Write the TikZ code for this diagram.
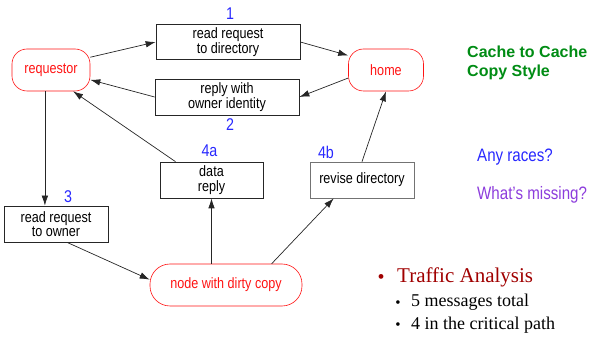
\documentclass[tikz,border=0pt]{standalone}
\usepackage{fontspec}
\setmainfont{Liberation Serif}
\newfontfamily\diagfont[FakeStretch=0.84]{Liberation Sans}
\newfontfamily\titlefont{Liberation Sans}
\usetikzlibrary{positioning, arrows.meta}
\definecolor{nodered}{RGB}{255,20,20}
\definecolor{numblue}{RGB}{40,40,255}
\definecolor{titlegreen}{RGB}{0,140,20}
\definecolor{askpurple}{RGB}{140,60,220}
\definecolor{darkred}{RGB}{160,0,0}

\begin{document}
\begin{tikzpicture}[x=1pt, y=-1pt, >={Latex[length=10pt,width=6.5pt]},
    msg/.style={draw=black!85, line width=0.7pt, minimum height=36pt, align=center, inner sep=1pt,
        font=\diagfont\fontsize{15}{14.5}\selectfont},
    agent/.style={draw=nodered, line width=0.6pt, rounded corners=15pt, minimum height=42pt,
        text=nodered, font=\diagfont\fontsize{15}{15}\selectfont},
    num/.style={text=numblue, inner sep=0pt, font=\diagfont\fontsize{17}{17}\selectfont},
    flow/.style={->, line width=0.7pt, black!85}]
    \useasboundingbox (0,0) rectangle (606,339);

    % agents
    \node[agent, minimum width=78pt] (req) at (51,70) {requestor};
    \node[agent, minimum width=75pt] (home) at (386,70) {home};
    \node[agent, minimum width=152pt, rounded corners=20pt] (dirty) at (226,285) {node with dirty copy};

    % messages
    \node[msg, minimum width=144pt, minimum height=35pt] (rdreq) at (228,42) {read request\\to directory};
    \node[msg, minimum width=144pt] (reply) at (227,97) {reply with\\owner identity};
    \node[msg, minimum width=104pt] (owner) at (56,224) {read request\\to owner};
    \node[msg, minimum width=103pt] (data) at (211.5,180) {data\\reply};
    \node[msg, draw=black!55, minimum width=104pt] (revise) at (362,180) {revise directory};

    % step numbers
    \node[num, above=4pt of rdreq, xshift=2pt] (n1) {1};
    \node[num, below=3pt of reply, xshift=3pt] (n2) {2};
    \node[num, above=3pt of owner, xshift=12pt] (n3) {3};
    \node[num, above=5pt of data, xshift=-2pt] (n4a) {4a};
    \node[num, above=3pt of revise, xshift=-36pt] (n4b) {4b};

    \draw[flow] (req.18) -- (rdreq.west);
    \draw[flow] (rdreq.east) -- (home.159);
    \draw[flow] (home.192) -- (reply.east);
    \draw[flow] (reply.west) -- (req.-14);
    \draw[flow] (data.153) -- (req.-44);
    \draw[flow] (req.254) -- (req.254 |- owner.north);
    \draw[flow] (owner.-59) -- (dirty.176);
    \draw[flow] (data.south |- dirty.north) -- (data.south);
    \draw[flow] (dirty.25) -- (revise.213);
    \draw[flow] (revise.north) -- (home.south);

    % side notes
    \node[anchor=north west, inner sep=0pt, align=left, text=titlegreen,
        font=\titlefont\bfseries\fontsize{16}{18.5}\selectfont] (title) at (467,46) {Cache to Cache\\Copy Style};
    \node[anchor=base west, inner sep=0pt, text=numblue,
        font=\diagfont\fontsize{18}{18}\selectfont] (races) at (477,162) {Any races?};
    \node[anchor=base west, inner sep=0pt, text=askpurple,
        font=\diagfont\fontsize{18}{18}\selectfont] (missing) at (477,200) {What’s missing?};

    \node[anchor=base, inner sep=0pt, text=darkred, font=\fontsize{20}{20}\selectfont] (b0) at (381,284) {\textbullet};
    \node[anchor=base west, inner sep=0pt, text=darkred, font=\fontsize{21}{21}\selectfont] (traffic) at (397,283) {Traffic Analysis};
    \node[anchor=base, inner sep=0pt, font=\fontsize{15}{15}\selectfont] (b1) at (398,308) {\textbullet};
    \node[anchor=base west, inner sep=0pt, font=\fontsize{18}{18}\selectfont] (total) at (411,307) {5 messages total};
    \node[anchor=base, inner sep=0pt, font=\fontsize{15}{15}\selectfont] (b2) at (398,330) {\textbullet};
    \node[anchor=base west, inner sep=0pt, font=\fontsize{18}{18}\selectfont] (crit) at (411,330) {4 in the critical path};
\end{tikzpicture}
\end{document}
